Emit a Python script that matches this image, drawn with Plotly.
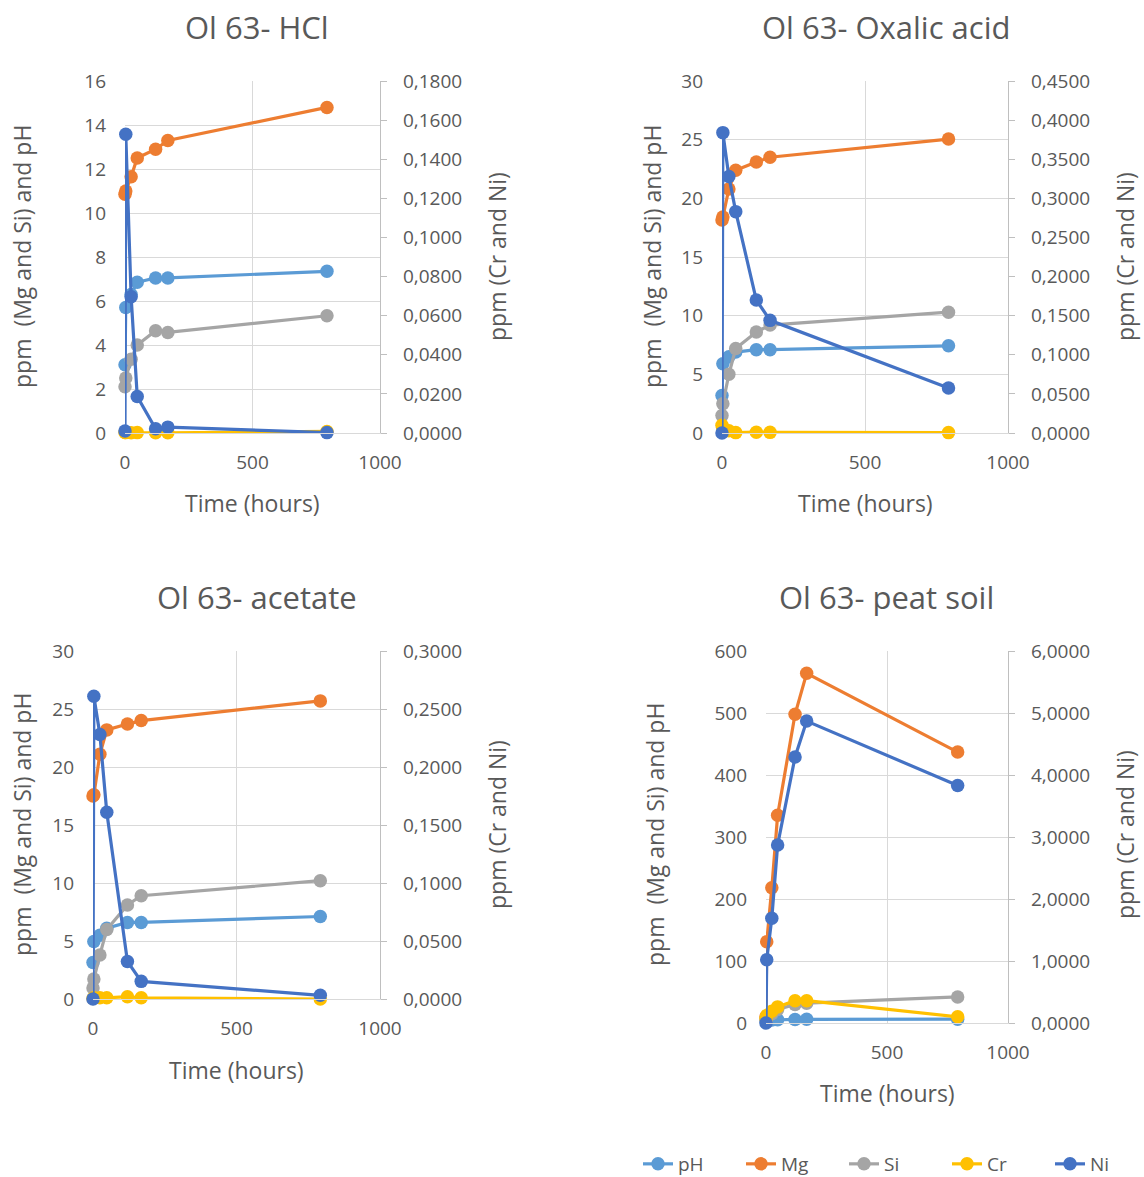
import plotly.graph_objects as go

# Sampling times (hours)
times = [0, 3, 24, 48, 120, 168, 792]

# Ol 63 - HCl
hcl_ph = [3.1, 5.7, 6.3, 6.85, 7.05, 7.05, 7.35]
hcl_mg = [10.85, 11.0, 11.65, 12.5, 12.9, 13.3, 14.8]
hcl_si = [2.1, 2.5, 3.35, 4.0, 4.65, 4.57, 5.33]
hcl_cr = [0.0003, 0.0002, 0.0001, 0.0002, 0.0001, 0.0001, 0.0008]
hcl_ni = [0.001, 0.1528, 0.0697, 0.0187, 0.0022, 0.0030, 0.0002]

# Ol 63 - Oxalic acid
oxa_ph = [3.2, 5.9, 6.5, 6.9, 7.1, 7.1, 7.43]
oxa_mg = [18.15, 18.4, 20.8, 22.4, 23.1, 23.5, 25.05]
oxa_si = [1.5, 2.5, 5.0, 7.2, 8.6, 9.2, 10.3]
oxa_cr = [0.010, 0.006, 0.003, 0.0005, 0.001, 0.0008, 0.0005]
oxa_ni = [0.0, 0.384, 0.328, 0.283, 0.170, 0.144, 0.0574]

# Ol 63 - acetate
ace_ph = [3.15, 4.96, 5.5, 6.1, 6.6, 6.6, 7.11]
ace_mg = [17.5, 17.6, 21.1, 23.2, 23.7, 24.0, 25.7]
ace_si = [0.95, 1.72, 3.8, 6.0, 8.1, 8.9, 10.2]
ace_cr = [0.0005, 0.001, 0.001, 0.001, 0.002, 0.001, 0.0]
ace_ni = [0.0, 0.261, 0.228, 0.161, 0.0324, 0.0152, 0.0032]

# Ol 63 - peat soil
peat_ph = [3.5, 4.2, 4.8, 5.3, 5.8, 5.9, 6.2]
peat_mg = [10, 131, 218, 335, 498, 564, 437]
peat_si = [5, 8, 15, 22, 30, 32, 42]
peat_cr = [0.08, 0.12, 0.19, 0.26, 0.36, 0.36, 0.10]
peat_ni = [0.0, 1.02, 1.69, 2.87, 4.29, 4.87, 3.83]

series_names = ["pH", "Mg", "Si", "Cr", "Ni"]
series_colors = ["#5B9BD5", "#ED7D31", "#A5A5A5", "#FFC000", "#4472C4"]

panel_titles = ["Ol 63- HCl", "Ol 63- Oxalic acid", "Ol 63- acetate", "Ol 63- peat soil"]
panel_data = [
    [hcl_ph, hcl_mg, hcl_si, hcl_cr, hcl_ni],
    [oxa_ph, oxa_mg, oxa_si, oxa_cr, oxa_ni],
    [ace_ph, ace_mg, ace_si, ace_cr, ace_ni],
    [peat_ph, peat_mg, peat_si, peat_cr, peat_ni],
]
left_ranges = [(16, 2), (30, 5), (30, 5), (600, 100)]
right_ranges = [(0.18, 0.02), (0.45, 0.05), (0.30, 0.05), (6.0, 1.0)]

W, H = 1144, 1177
FONT = "Open Sans"
TXT = "#595959"
GRID = "#D9D9D9"

# plot-area boxes in pixels: x0, x1, y_top, y_bottom
boxes = [
    (125, 380, 81, 433),
    (722, 1008, 81, 433),
    (93, 380, 651, 999),
    (766, 1008, 651, 1023),
]
# title centre, left-title x, right-title x, y-title centre, x-title y
labels_pos = [
    ((257, 27), 22, 497, 257, 503),
    ((886, 27), 652, 1125, 257, 503),
    ((257, 597), 22, 497, 825, 1070),
    ((886, 597), 655, 1125, 835, 1093),
]


def px(x):
    return x / W


def py(y):
    return 1 - y / H


fig = go.Figure()
layout = dict(
    width=W, height=H,
    margin=dict(l=0, r=0, t=0, b=0, autoexpand=False),
    paper_bgcolor="white", plot_bgcolor="white",
    separators=",.",
    font=dict(family=FONT, color=TXT, size=19),
    showlegend=True,
    legend=dict(
        orientation="h", x=638 / W, xanchor="left", y=py(1164), yanchor="middle",
        font=dict(size=19, color=TXT), bgcolor="rgba(0,0,0,0)", traceorder="normal",
        entrywidth=58, entrywidthmode="pixels",
    ),
)
annotations = []

for k in range(4):
    xa = "xaxis" if k == 0 else f"xaxis{k + 1}"
    xid = "x" if k == 0 else f"x{k + 1}"
    ly_n, ry_n = 2 * k + 1, 2 * k + 2
    ly = "yaxis" if ly_n == 1 else f"yaxis{ly_n}"
    lyid = "y" if ly_n == 1 else f"y{ly_n}"
    ry = f"yaxis{ry_n}"
    ryid = f"y{ry_n}"
    x0, x1, yt, yb = boxes[k]

    layout[xa] = dict(
        domain=[px(x0), px(x1)], anchor=lyid, range=[0, 1000], dtick=500, tick0=0,
        showgrid=True, gridcolor=GRID, gridwidth=1.3, zeroline=False,
        showline=True, linecolor=GRID, linewidth=1.3,
        ticks="", ticklabelstandoff=12, tickfont=dict(size=19, color=TXT),
    )
    lmax, ldt = left_ranges[k]
    layout[ly] = dict(
        domain=[py(yb), py(yt)], anchor=xid, range=[0, lmax], dtick=ldt, tick0=0,
        showgrid=True, gridcolor=GRID, gridwidth=1.3, zeroline=False, showline=False,
        ticks="", ticklabelstandoff=18, tickfont=dict(size=19, color=TXT),
    )
    rmax, rdt = right_ranges[k]
    layout[ry] = dict(
        overlaying=lyid, anchor=xid, side="right", range=[0, rmax], dtick=rdt, tick0=0,
        tickformat=".4f", showgrid=False, zeroline=False,
        showline=True, linecolor="#BFBFBF", linewidth=1.3,
        ticks="outside", ticklen=6, tickcolor="#BFBFBF", tickwidth=1.3,
        ticklabelstandoff=12, tickfont=dict(size=19, color=TXT),
    )

    for i, (name, color) in enumerate(zip(series_names, series_colors)):
        fig.add_trace(go.Scatter(
            x=times, y=panel_data[k][i], name=name, mode="lines+markers",
            line=dict(color=color, width=3.2), marker=dict(color=color, size=13.5),
            xaxis=xid, yaxis=(lyid if i < 3 else ryid),
            showlegend=(k == 0), legendgroup=name, cliponaxis=False,
        ))

    (tx, ty), lx, rx, yc, xty = labels_pos[k]
    annotations.append(dict(
        text=panel_titles[k], x=px(tx), y=py(ty), xref="paper", yref="paper",
        showarrow=False, font=dict(size=31, color=TXT), xanchor="center", yanchor="middle"))
    annotations.append(dict(
        text="ppm  (Mg and Si) and pH", x=px(lx), y=py(yc), xref="paper", yref="paper",
        showarrow=False, textangle=-90, font=dict(size=23, color=TXT),
        xanchor="center", yanchor="middle"))
    annotations.append(dict(
        text="ppm (Cr and Ni)", x=px(rx), y=py(yc), xref="paper", yref="paper",
        showarrow=False, textangle=-90, font=dict(size=23, color=TXT),
        xanchor="center", yanchor="middle"))
    annotations.append(dict(
        text="Time (hours)", x=px((x0 + x1) / 2), y=py(xty), xref="paper", yref="paper",
        showarrow=False, font=dict(size=23, color=TXT), xanchor="center", yanchor="middle"))

layout["annotations"] = annotations
fig.update_layout(**layout)
fig.write_html("out.html")
